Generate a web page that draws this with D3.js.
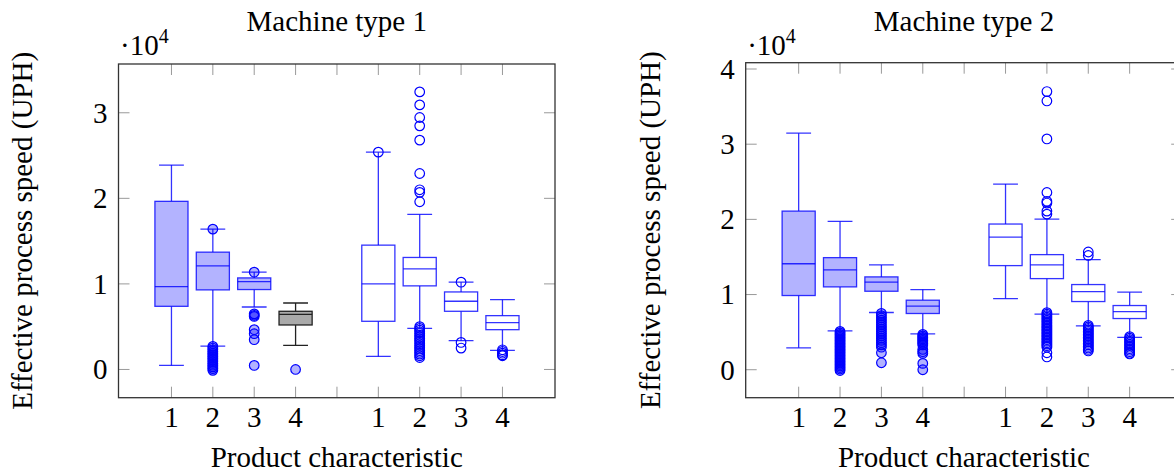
<!DOCTYPE html>
<html>
<head>
<meta charset="utf-8">
<script src="https://cdn.jsdelivr.net/npm/d3@7"></script>
<style>
  body { margin: 0; background: #fff; }
  text { font-family: "Liberation Serif", "DejaVu Serif", serif; fill: #000; }
</style>
</head>
<body>
<svg></svg>
<script>
const size = {w: 1174, h: 472};
const svg = d3.select('svg').attr('width', size.w).attr('height', size.h);

// product characteristic positions (5 is the gap between the two groups)
const positions = [1, 2, 3, 4, 6, 7, 8, 9];
const xTickValues = [1, 2, 3, 4, 5, 6, 7, 8, 9];
const xTickLabels = ['1', '2', '3', '4', '', '1', '2', '3', '4'];

// machine type 1 (values in 10^4 UPH)
const m1Low    = [0.047, 0.273, 0.730, 0.281, 0.152, 0.480, 0.336, 0.223];
const m1Q1     = [0.738, 0.930, 0.934, 0.520, 0.563, 0.977, 0.680, 0.465];
const m1Median = [0.969, 1.211, 1.027, 0.645, 1.000, 1.176, 0.797, 0.547];
const m1Q3     = [1.965, 1.371, 1.070, 0.680, 1.453, 1.309, 0.906, 0.629];
const m1High   = [2.389, 1.640, 1.137, 0.777, 2.540, 1.812, 1.020, 0.816];
const m1Outliers = [
  [],
  [1.64, 0.27, 0.25, 0.23, 0.21, 0.19, 0.17, 0.15, 0.13, 0.11, 0.09, 0.07, 0.05, 0.03, 0.01, -0.01],
  [1.137, 0.65, 0.633, 0.62, 0.465, 0.418, 0.348, 0.047],
  [0.0],
  [2.54],
  [3.244, 3.092, 2.945, 2.847, 2.68, 2.29, 2.10, 2.07, 1.96,
   0.50, 0.48, 0.46, 0.44, 0.42, 0.40, 0.38, 0.36, 0.34, 0.32, 0.30, 0.28, 0.26, 0.24, 0.22, 0.20, 0.18, 0.16, 0.14],
  [1.02, 0.316, 0.25],
  [0.23, 0.21, 0.19, 0.17, 0.16]
];

// machine type 2 (values in 10^4 UPH)
const m2Low    = [0.292, 0.518, 0.761, 0.478, 0.947, 0.739, 0.584, 0.430];
const m2Q1     = [0.987, 1.102, 1.044, 0.748, 1.385, 1.212, 0.907, 0.681];
const m2Median = [1.410, 1.327, 1.164, 0.845, 1.765, 1.394, 1.040, 0.774];
const m2Q3     = [2.110, 1.491, 1.235, 0.925, 1.938, 1.531, 1.133, 0.854];
const m2High   = [3.146, 1.973, 1.394, 1.066, 2.469, 2.004, 1.465, 1.031];
const m2Outliers = [
  [],
  [0.51, 0.49, 0.47, 0.45, 0.43, 0.41, 0.39, 0.37, 0.35, 0.33, 0.31, 0.29, 0.27, 0.25, 0.23, 0.21,
   0.19, 0.17, 0.15, 0.13, 0.11, 0.09, 0.07, 0.05, 0.03, 0.01, -0.01],
  [0.75, 0.72, 0.69, 0.66, 0.63, 0.60, 0.57, 0.54, 0.51, 0.48, 0.45, 0.42, 0.39, 0.36, 0.33, 0.30, 0.226, 0.093],
  [0.47, 0.45, 0.43, 0.41, 0.39, 0.37, 0.35, 0.33, 0.27, 0.24, 0.217, 0.084, 0.0],
  [],
  [3.70, 3.575, 3.07, 2.358, 2.24, 2.217, 2.11, 2.07,
   0.76, 0.74, 0.72, 0.70, 0.68, 0.66, 0.64, 0.62, 0.60, 0.58, 0.56, 0.54, 0.52, 0.50, 0.48, 0.46,
   0.44, 0.42, 0.40, 0.38, 0.36, 0.34, 0.32, 0.30, 0.226, 0.17],
  [1.566, 1.52, 0.59, 0.57, 0.55, 0.53, 0.51, 0.49, 0.47, 0.45, 0.43, 0.41, 0.39, 0.37, 0.35, 0.33, 0.31, 0.29, 0.27, 0.25],
  [0.44, 0.42, 0.40, 0.38, 0.36, 0.34, 0.32, 0.30, 0.28, 0.26, 0.24, 0.22, 0.21]
];

function buildBoxes(low, q1, med, q3, high, outliers) {
  return positions.map((p, i) => ({
    pos: p, low: low[i], q1: q1[i], med: med[i], q3: q3[i], high: high[i], out: outliers[i], idx: i
  }));
}

const panels = [
  {title: 'Machine type 1', frame: {l: 118.5, r: 555, t: 64, b: 397.7},
   yDomain: [-0.33, 3.57], yTicks: [0, 1, 2, 3], grayIdx: 3,
   boxes: buildBoxes(m1Low, m1Q1, m1Median, m1Q3, m1High, m1Outliers)},
  {title: 'Machine type 2', frame: {l: 745.7, r: 1182.2, t: 62.7, b: 397.7},
   yDomain: [-0.372, 4.084], yTicks: [0, 1, 2, 3, 4], grayIdx: -1,
   boxes: buildBoxes(m2Low, m2Q1, m2Median, m2Q3, m2High, m2Outliers)}
];

const BLUE = '#0000ff';
const tickLen = 11;
const fontSize = '29px';

panels.forEach((pn, k) => {
  const f = pn.frame;
  const g = svg.append('g').classed('panel', true);
  const x = d3.scaleLinear().domain([-0.28, 10.27]).range([f.l, f.r]);
  const y = d3.scaleLinear().domain(pn.yDomain).range([f.b, f.t]);

  const clipId = 'clip' + k;
  svg.append('clipPath').attr('id', clipId)
    .append('rect').attr('x', f.l).attr('y', f.t).attr('width', f.r - f.l).attr('height', f.b - f.t);

  // ticks (inside on all four sides)
  const tickG = g.append('g').attr('stroke', '#999').attr('stroke-width', 1);
  xTickValues.forEach(v => {
    tickG.append('line').attr('x1', x(v)).attr('x2', x(v)).attr('y1', f.b).attr('y2', f.b - tickLen);
    tickG.append('line').attr('x1', x(v)).attr('x2', x(v)).attr('y1', f.t).attr('y2', f.t + tickLen);
  });
  pn.yTicks.forEach(v => {
    tickG.append('line').attr('x1', f.l).attr('x2', f.l + tickLen).attr('y1', y(v)).attr('y2', y(v));
    tickG.append('line').attr('x1', f.r).attr('x2', f.r - tickLen).attr('y1', y(v)).attr('y2', y(v));
  });

  // boxes
  const plotG = g.append('g').attr('clip-path', `url(#${clipId})`);
  const halfBox = 0.4, halfCap = 0.3;
  pn.boxes.forEach(d => {
    const filled = d.idx < 4;
    const gray = d.idx === pn.grayIdx;
    const stroke = gray ? '#222' : BLUE;
    const bg = plotG.append('g').attr('stroke', stroke).attr('stroke-width', 1.3)
      .attr('stroke-opacity', gray ? 1 : 0.8);
    const cx = x(d.pos);
    // whiskers
    bg.append('line').attr('x1', cx).attr('x2', cx).attr('y1', y(d.low)).attr('y2', y(d.q1));
    bg.append('line').attr('x1', cx).attr('x2', cx).attr('y1', y(d.q3)).attr('y2', y(d.high));
    [d.low, d.high].forEach(v => {
      bg.append('line').attr('x1', x(d.pos - halfCap)).attr('x2', x(d.pos + halfCap))
        .attr('y1', y(v)).attr('y2', y(v));
    });
    // box
    bg.append('rect')
      .attr('x', x(d.pos - halfBox)).attr('width', x(d.pos + halfBox) - x(d.pos - halfBox))
      .attr('y', y(d.q3)).attr('height', y(d.q1) - y(d.q3))
      .attr('fill', gray ? '#aaaaaa' : (filled ? '#b3b3ff' : '#fff'));
    bg.append('line').attr('x1', x(d.pos - halfBox)).attr('x2', x(d.pos + halfBox))
      .attr('y1', y(d.med)).attr('y2', y(d.med));
    // outliers
    plotG.append('g').selectAll('circle')
      .data(d.out)
      .join('circle')
      .attr('cx', cx)
      .attr('cy', v => y(v))
      .attr('r', 4.8)
      .attr('fill', filled ? BLUE : 'none')
      .attr('fill-opacity', 0.3)
      .attr('stroke', BLUE)
      .attr('stroke-width', 1.2);
  });

  // frame
  g.append('rect').attr('x', f.l).attr('y', f.t).attr('width', f.r - f.l).attr('height', f.b - f.t)
    .attr('fill', 'none').attr('stroke', '#333').attr('stroke-width', 1.3);

  // tick labels
  pn.yTicks.forEach(v => {
    g.append('text').attr('x', f.l - 11).attr('y', y(v)).attr('dy', '0.34em')
      .attr('text-anchor', 'end').style('font-size', fontSize).text(v);
  });
  xTickValues.forEach((v, i) => {
    g.append('text').attr('x', x(v)).attr('y', 427)
      .attr('text-anchor', 'middle').style('font-size', fontSize).text(xTickLabels[i]);
  });

  // scale marker
  const sc = g.append('text').attr('x', f.l + 1.5).attr('y', 54.5).style('font-size', fontSize);
  sc.append('tspan').text('·10');
  sc.append('tspan').attr('dy', -12).style('font-size', '20px').text('4');

  const cxPanel = (f.l + f.r) / 2;
  g.append('text').attr('x', cxPanel).attr('y', 31).attr('text-anchor', 'middle')
    .style('font-size', fontSize).text(pn.title);
  g.append('text').attr('x', cxPanel).attr('y', 467).attr('text-anchor', 'middle')
    .style('font-size', fontSize).text('Product characteristic');
  const ly = (f.t + f.b) / 2;
  const lx = k === 0 ? 32 : 660;
  g.append('text').attr('transform', `translate(${lx},${ly}) rotate(-90)`)
    .attr('text-anchor', 'middle').style('font-size', fontSize).text('Effective process speed (UPH)');
});
</script>
</body>
</html>
